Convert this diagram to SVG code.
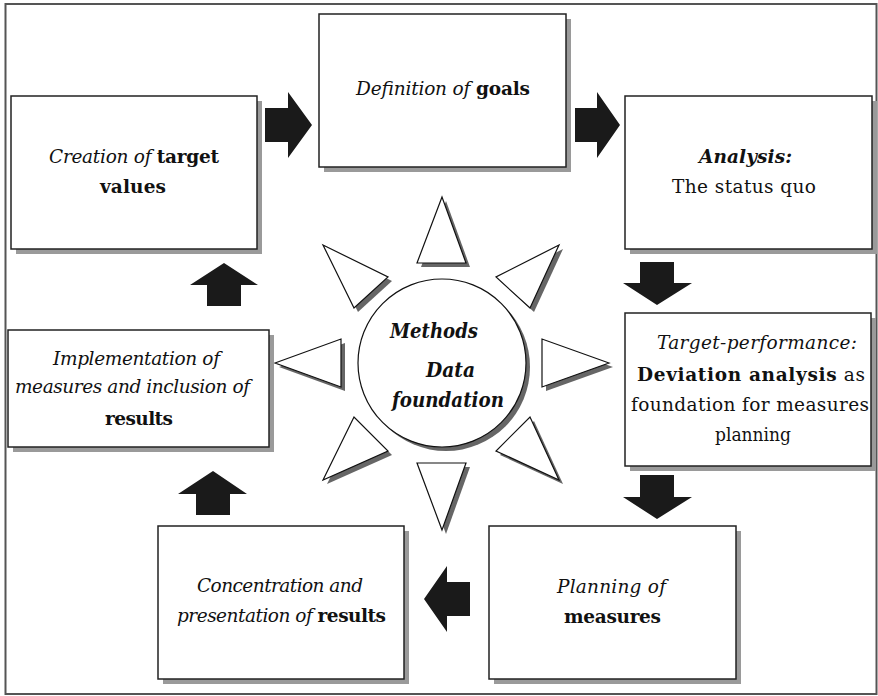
<svg xmlns="http://www.w3.org/2000/svg" width="878" height="696" viewBox="0 0 878 696">
<defs>
<style>
.frame{fill:#fff;stroke:#555;stroke-width:2}
.box{fill:#fff;stroke:#222;stroke-width:1.5}
.shd{fill:#9a9a9a}
.tshd{fill:#666}
.tri{fill:#fff;stroke:#111;stroke-width:1.2;stroke-linejoin:miter}
.arr{fill:#1a1a1a}
text{font-family:'DejaVu Serif',serif;font-size:18.5px;fill:#111;text-anchor:middle}
.i{font-style:italic}
.b{font-weight:bold}
.c{font-size:20px;font-weight:bold;font-style:italic}
</style>
</defs>
<rect class="frame" x="5.5" y="4" width="871" height="690"/>

<g id="connectors">
<polygon class="arr" points="265,108 288,108 288,92 312,125 288,158 288,142 265,142"/>
<polygon class="arr" points="575,108 597,108 597,92 620,125 597,158 597,142 575,142"/>
<polygon class="arr" points="640,262 674,262 674,283 692,283 657,305 623,283 640,283"/>
<polygon class="arr" points="640,475 674,475 674,497 692,497 657,519 623,497 640,497"/>
<polygon class="arr" points="470,582 470,616 447,616 447,632 424,599 447,566 447,582"/>
<polygon class="arr" points="196,515 230,515 230,494 247,494 213,471 178,494 196,494"/>
<polygon class="arr" points="207,306 241,306 241,285 258,285 224,263 190,285 207,285"/>
</g>

<g id="hub">
<g class="tshd" transform="translate(4,4)">
<polygon points="442,197 417,263 466,263"/>
<polygon points="559,245 496,277 530,308"/>
<polygon points="323,245 388,277 354,308"/>
<polygon points="275,363 341,339 341,387"/>
<polygon points="609,363 542,339 542,387"/>
<polygon points="323,480 354,417 388,451"/>
<polygon points="559,480 530,417 496,451"/>
<polygon points="442,530 417,463 466,463"/>
<circle cx="442" cy="363" r="84"/>
</g>
<polygon class="tri" points="442,197 417,263 466,263"/>
<polygon class="tri" points="559,245 496,277 530,308"/>
<polygon class="tri" points="323,245 388,277 354,308"/>
<polygon class="tri" points="275,363 341,339 341,387"/>
<polygon class="tri" points="609,363 542,339 542,387"/>
<polygon class="tri" points="323,480 354,417 388,451"/>
<polygon class="tri" points="559,480 530,417 496,451"/>
<polygon class="tri" points="442,530 417,463 466,463"/>
<circle class="tri" cx="442" cy="363" r="84"/>
<text class="c" x="434" y="338" textLength="88" lengthAdjust="spacingAndGlyphs">Methods</text>
<text class="c" x="450.5" y="377" textLength="49" lengthAdjust="spacingAndGlyphs">Data</text>
<text class="c" x="448" y="407" textLength="112" lengthAdjust="spacingAndGlyphs">foundation</text>
</g>

<g id="n1">
<rect class="shd" x="16" y="101" width="246" height="153"/>
<rect class="box" x="11" y="96" width="246" height="153"/>
<text x="134" y="163" textLength="170"><tspan class="i">Creation of </tspan> <tspan class="b">target</tspan></text>
<text x="133" y="193" class="b" textLength="66">values</text>
</g>

<g id="n2">
<rect class="shd" x="324" y="19" width="247" height="153"/>
<rect class="box" x="319" y="14" width="247" height="153"/>
<text x="443" y="95" textLength="174"><tspan class="i">Definition of </tspan><tspan class="b">goals</tspan></text>
</g>

<g id="n3">
<rect class="shd" x="630" y="101" width="247" height="153"/>
<rect class="box" x="625" y="96" width="247" height="153"/>
<text x="745.5" y="163" class="b i" textLength="93">Analysis:</text>
<text x="744" y="193" textLength="144">The status quo</text>
</g>

<g id="n4">
<rect class="shd" x="630" y="318" width="246" height="153"/>
<rect class="box" x="625" y="313" width="246" height="153"/>
<text x="757" y="349" class="i" textLength="200">Target-performance:</text>
<text x="751" y="381" textLength="228"><tspan class="b">Deviation analysis</tspan> as</text>
<text x="750" y="411" textLength="238">foundation for measures</text>
<text x="753" y="441" textLength="76" lengthAdjust="spacingAndGlyphs">planning</text>
</g>

<g id="n5">
<rect class="shd" x="494" y="531" width="247" height="153"/>
<rect class="box" x="489" y="526" width="247" height="153"/>
<text x="611.5" y="593" class="i" textLength="109">Planning of</text>
<text x="612.5" y="623" class="b" textLength="97">measures</text>
</g>

<g id="n6">
<rect class="shd" x="163" y="531" width="246" height="153"/>
<rect class="box" x="158" y="526" width="246" height="153"/>
<text x="280" y="592" class="i" textLength="166">Concentration and</text>
<text x="281.5" y="622" textLength="209"><tspan class="i">presentation of </tspan><tspan class="b">results</tspan></text>
</g>

<g id="n7">
<rect class="shd" x="13" y="335" width="261" height="117"/>
<rect class="box" x="8" y="330" width="261" height="117"/>
<text x="136.5" y="365" class="i" textLength="167">Implementation of</text>
<text x="132.5" y="393" class="i" textLength="235">measures and inclusion of</text>
<text x="139" y="425" class="b" textLength="68">results</text>
</g>
</svg>
